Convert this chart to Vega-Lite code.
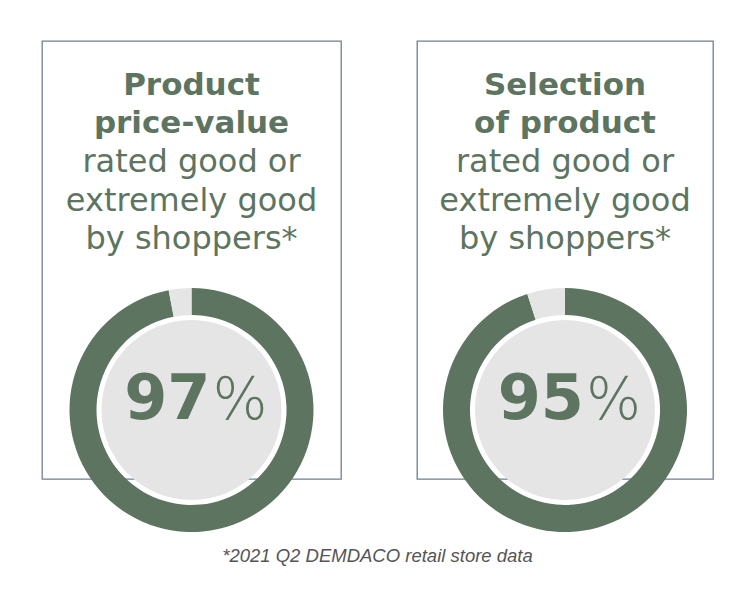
{
  "$schema": "https://vega.github.io/schema/vega-lite/v6.json",
  "padding": {"left": 41, "top": 40, "right": 0, "bottom": 0},
  "autosize": {"type": "pad"},
  "background": "white",
  "spacing": 74,
  "config": {
    "view": {"stroke": "#6f808f", "strokeWidth": 1.3},
    "font": "DejaVu Sans",
    "title": {
      "anchor": "middle",
      "orient": "top",
      "offset": -215,
      "font": "DejaVu Sans",
      "fontSize": 31,
      "fontWeight": "bold",
      "color": "#5d7460",
      "lineHeight": 38.5,
      "subtitleFont": "DejaVu Sans",
      "subtitleFontSize": 32,
      "subtitleFontWeight": "normal",
      "subtitleColor": "#5d7460",
      "subtitleLineHeight": 38.5,
      "subtitlePadding": 7
    }
  },
  "title": {
    "text": "*2021 Q2 DEMDACO retail store data",
    "orient": "bottom",
    "anchor": "middle",
    "offset": 14,
    "font": "Liberation Sans",
    "fontStyle": "italic",
    "fontWeight": "normal",
    "fontSize": 18.5,
    "color": "#555555"
  },
  "hconcat": [
    {
      "width": 299,
      "height": 438,
      "view": {"stroke": "#6f808f", "strokeWidth": 1.3},
      "title": {"text": ["Product", "price-value"], "subtitle": ["rated good or", "extremely good", "by shoppers*"]},
      "data": {"values": [
        {"part": "rated good", "value": 97, "order": 1},
        {"part": "other", "value": 3, "order": 2}
      ]},
      "layer": [
        {
          "mark": {"type": "arc", "outerRadius": 122, "innerRadius": 95, "yOffset": 150},
          "encoding": {
            "theta": {"field": "value", "type": "quantitative", "stack": true},
            "order": {"field": "order", "type": "quantitative"},
            "color": {"field": "part", "type": "nominal", "scale": {"domain": ["rated good", "other"], "range": ["#5d7460", "#e5e5e5"]}, "legend": null}
          }
        },
        {
          "transform": [{"filter": "datum.order == 1"}],
          "mark": {"type": "arc", "outerRadius": 90, "innerRadius": 0, "theta": 0, "theta2": 6.2832, "yOffset": 150, "color": "#e5e5e5"},
          "encoding": {}
        },
        {
          "transform": [{"filter": "datum.order == 1"}],
          "mark": {"type": "text", "align": "right", "baseline": "alphabetic", "dx": 19, "dy": 159, "fontSize": 62, "fontWeight": "bold", "color": "#5d7460"},
          "encoding": {"text": {"field": "value", "type": "quantitative"}}
        },
        {
          "transform": [{"filter": "datum.order == 1"}],
          "mark": {"type": "text", "text": "%", "align": "left", "baseline": "alphabetic", "dx": 21, "dy": 159, "fontSize": 58, "fontWeight": 200, "color": "#5d7460"},
          "encoding": {}
        }
      ]
    },
    {
      "width": 296,
      "height": 438,
      "view": {"stroke": "#6f808f", "strokeWidth": 1.3},
      "title": {"text": ["Selection", "of product"], "subtitle": ["rated good or", "extremely good", "by shoppers*"]},
      "data": {"values": [
        {"part": "rated good", "value": 95, "order": 1},
        {"part": "other", "value": 5, "order": 2}
      ]},
      "layer": [
        {
          "mark": {"type": "arc", "outerRadius": 122, "innerRadius": 95, "yOffset": 150},
          "encoding": {
            "theta": {"field": "value", "type": "quantitative", "stack": true},
            "order": {"field": "order", "type": "quantitative"},
            "color": {"field": "part", "type": "nominal", "scale": {"domain": ["rated good", "other"], "range": ["#5d7460", "#e5e5e5"]}, "legend": null}
          }
        },
        {
          "transform": [{"filter": "datum.order == 1"}],
          "mark": {"type": "arc", "outerRadius": 90, "innerRadius": 0, "theta": 0, "theta2": 6.2832, "yOffset": 150, "color": "#e5e5e5"},
          "encoding": {}
        },
        {
          "transform": [{"filter": "datum.order == 1"}],
          "mark": {"type": "text", "align": "right", "baseline": "alphabetic", "dx": 19, "dy": 159, "fontSize": 62, "fontWeight": "bold", "color": "#5d7460"},
          "encoding": {"text": {"field": "value", "type": "quantitative"}}
        },
        {
          "transform": [{"filter": "datum.order == 1"}],
          "mark": {"type": "text", "text": "%", "align": "left", "baseline": "alphabetic", "dx": 21, "dy": 159, "fontSize": 58, "fontWeight": 200, "color": "#5d7460"},
          "encoding": {}
        }
      ]
    }
  ]
}
